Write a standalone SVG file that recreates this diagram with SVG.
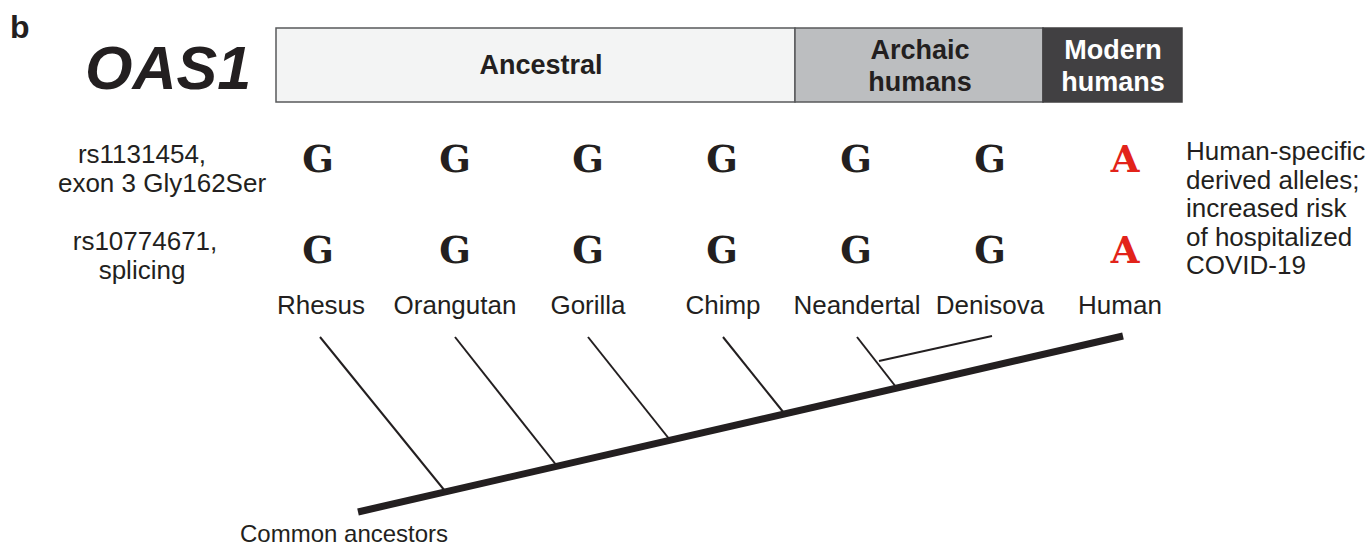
<svg xmlns="http://www.w3.org/2000/svg" width="1370" height="547" viewBox="0 0 1370 547">
<style>
.t{font-family:"Liberation Sans",Arial,sans-serif;fill:#231f20}
.lab{font-size:26px;text-anchor:middle}
.hb{font-weight:bold;font-size:27px;text-anchor:middle}
.al{font-family:"DejaVu Serif","Liberation Serif",serif;font-weight:bold;font-size:37px;text-anchor:middle;fill:#231f20}
.red{fill:#e2231a}
.br{stroke:#231f20;stroke-width:2;fill:none}
</style>
<rect width="1370" height="547" fill="#fff"/>
<g id="title">
<text class="t" x="10" y="38" font-size="32" font-weight="bold">b</text>
<text class="t" x="85" y="89" font-size="61" font-weight="bold" font-style="italic">OAS1</text>
</g>
<g id="header">
<rect x="276" y="28" width="519" height="74" fill="#f3f4f4" stroke="#58595b" stroke-width="1.5"/>
<rect x="795" y="28" width="248" height="74" fill="#bcbec0" stroke="#58595b" stroke-width="1.5"/>
<rect x="1043" y="28" width="139" height="74" fill="#414042" stroke="#414042" stroke-width="1.5"/>
<text class="t hb" x="541" y="74">Ancestral</text>
<text class="t hb" x="920" y="59">Archaic</text>
<text class="t hb" x="920" y="91">humans</text>
<text class="t hb" x="1113" y="59" style="fill:#fff">Modern</text>
<text class="t hb" x="1113" y="91" style="fill:#fff">humans</text>
</g>
<g id="snp-labels">
<text class="t lab" x="142" y="163">rs1131454,</text>
<text class="t lab" x="162" y="192">exon 3 Gly162Ser</text>
<text class="t lab" x="145" y="250">rs10774671,</text>
<text class="t lab" x="142" y="279">splicing</text>
</g>
<g id="alleles-row1">
<text class="al" x="318" y="172">G</text>
<text class="al" x="455" y="172">G</text>
<text class="al" x="588" y="172">G</text>
<text class="al" x="722" y="172">G</text>
<text class="al" x="856" y="172">G</text>
<text class="al" x="990" y="172">G</text>
<text class="al red" x="1125" y="172">A</text>
</g>
<g id="alleles-row2">
<text class="al" x="318" y="263">G</text>
<text class="al" x="455" y="263">G</text>
<text class="al" x="588" y="263">G</text>
<text class="al" x="722" y="263">G</text>
<text class="al" x="856" y="263">G</text>
<text class="al" x="990" y="263">G</text>
<text class="al red" x="1125" y="263">A</text>
</g>
<g id="note">
<text class="t" font-size="26" x="1186" y="160">Human-specific</text>
<text class="t" font-size="26" x="1186" y="189">derived alleles;</text>
<text class="t" font-size="26" x="1186" y="217">increased risk</text>
<text class="t" font-size="26" x="1186" y="246">of hospitalized</text>
<text class="t" font-size="26" x="1186" y="274">COVID-19</text>
</g>
<g id="species">
<text class="t lab" x="321" y="314">Rhesus</text>
<text class="t lab" x="455" y="314">Orangutan</text>
<text class="t lab" x="588" y="314">Gorilla</text>
<text class="t lab" x="723" y="314">Chimp</text>
<text class="t lab" x="857" y="314">Neandertal</text>
<text class="t lab" x="990" y="314">Denisova</text>
<text class="t lab" x="1120" y="314">Human</text>
</g>
<g id="connectors">
<line x1="358" y1="512" x2="1123" y2="336" stroke="#231f20" stroke-width="7"/>
<line class="br" x1="320" y1="337" x2="445" y2="491"/>
<line class="br" x1="455" y1="337" x2="557" y2="466"/>
<line class="br" x1="588" y1="337" x2="670" y2="440"/>
<line class="br" x1="723" y1="337" x2="784" y2="413"/>
<line class="br" x1="857" y1="337" x2="896" y2="387"/>
<line class="br" x1="879" y1="361" x2="992" y2="336"/>
</g>
<g id="root-label">
<text class="t" font-size="24" x="240" y="542">Common ancestors</text>
</g>
</svg>
